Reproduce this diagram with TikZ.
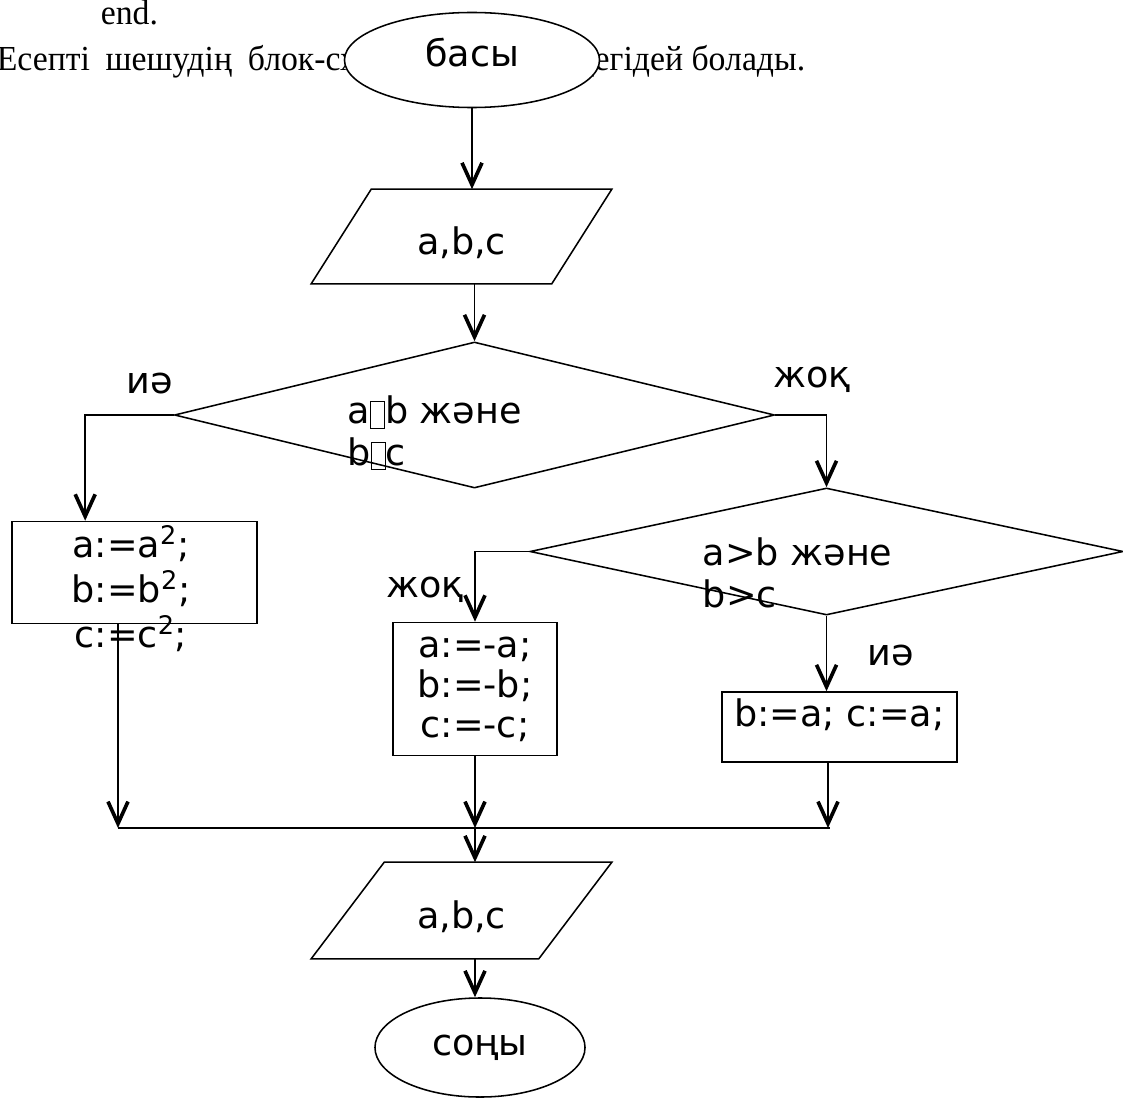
\documentclass[tikz,border=0pt]{standalone}
\usepackage{fontspec}
\setmainfont[FakeStretch=0.96]{Liberation Serif}
\newfontfamily\boxfont{DejaVu Sans}
\usetikzlibrary{arrows.meta,positioning,shapes.geometric,calc}

% glyph the source font could not show
\newcommand{\missingglyph}{\raisebox{-0.12em}{{\setlength{\fboxsep}{0pt}\setlength{\fboxrule}{0.6pt}\fbox{\rule{0pt}{0.72em}\hspace{0.36em}}}}}

\begin{document}
\begin{tikzpicture}[x=0.025cm, y=-0.025cm, line width=1.1pt,
  lbl/.style={font=\boxfont\fontsize{26}{28.5}\selectfont, inner sep=0pt},
  page/.style={font=\fontsize{25}{29}\selectfont, inner sep=0pt},
  terminal/.style={ellipse, draw, fill=white, lbl},
  io/.style={rectangle, text height=1cm, lbl},
  decision/.style={diamond, draw, inner sep=0pt},
  process/.style={rectangle, draw, align=center, lbl},
  flow/.style={-{Straight Barb[length=0.55cm, width=0.5cm, line width=2.6pt]}}]

\path[use as bounding box, fill=white] (0,0) rectangle (1123,1097);

% text of the page behind the chart
\node[page, anchor=base west] (endword) at (100,25) {end.};
\node[page, anchor=base west] (introL) at (-4,71)
  {Есепті\hspace{0.45em}шешудің\hspace{0.45em}блок-схемасы};
\node[page, anchor=base east] (introR) at (806,71) {төмендегідей болады.};

% blocks
\node[terminal, minimum width=6.375cm, minimum height=2.375cm, text depth=0.4cm] (start) at (472,60) {басы};

\node[io, minimum width=5.975cm, minimum height=2.325cm] (in) at (461.5,236.5) {a,b,c};
\draw ([xshift=0.75cm]in.north west) -- ([xshift=0.75cm]in.north east)
  -- ([xshift=-0.75cm]in.south east) -- ([xshift=-0.75cm]in.south west) -- cycle;

\node[decision, minimum width=15cm, minimum height=3.65cm] (cond1) at (474.5,415) {};
\node[lbl, anchor=base west, align=left, font=\boxfont\fontsize{26}{29.5}\selectfont] (cond1txt) at (347,465)
  {a\missingglyph b және\\b\missingglyph c};

\node[process, minimum width=6.125cm, minimum height=2.55cm] (sq) at (134.5,572.5) {};
\node[lbl, anchor=base, align=center] (sqtxt) at (131,647)
  {a:=a\textsuperscript{2};\\[3.5pt]b:=b\textsuperscript{2};\\[3.5pt]c:=c\textsuperscript{2};};

\node[decision, minimum width=14.825cm, minimum height=3.175cm] (cond2) at (826.5,551.5) {};
\node[lbl, anchor=base west, align=left, font=\boxfont\fontsize{26}{29.5}\selectfont] (cond2txt) at (702,607)
  {a>b және\\b>c};

\node[process, minimum width=4.1cm, minimum height=3.325cm] (neg) at (475,689) {a:=-a;\\b:=-b;\\c:=-c;};
\node[process, minimum width=5.875cm, minimum height=1.75cm, text depth=0.7cm] (copy) at (839.5,727) {b:=a; c:=a;};

\node[io, minimum width=5.65cm, minimum height=2.375cm] (out) at (461.5,910.5) {a,b,c};
\draw ([xshift=0.9125cm]out.north west) -- ([xshift=0.9125cm]out.north east)
  -- ([xshift=-0.9125cm]out.south east) -- ([xshift=-0.9125cm]out.south west) -- cycle;

\node[terminal, minimum width=5.25cm, minimum height=2.475cm] (stop) at (480,1047.5) {соңы};

% branch labels
\node[lbl, anchor=base] (yes1) at (150,393) {иә};
\node[lbl, anchor=base] (no1) at (812,387) {жоқ};
\node[lbl, anchor=base] (no2) at (425,597) {жоқ};
\node[lbl, anchor=base] (yes2) at (891,665) {иә};

% join points
\coordinate (jl) at (118,828);
\coordinate (jm) at (475,828);
\coordinate (jr) at (828,828);

% connectors
\draw[flow] (start.south) -- (start.south |- in.north);
\draw[flow] (cond1.north |- in.south) -- (cond1.north);
\draw[flow] (cond1.west) -| ($(sq.north west)!0.3!(sq.north east)$);
\draw[flow] (cond1.east) -| (cond2.north);
\draw[flow] (cond2.west) -| (neg.north);
\draw[flow] (cond2.south) -- (cond2.south |- copy.north);
\draw[flow] (sq.south -| jl) -- (jl);
\draw[flow] (neg.south) -- (jm);
\draw[flow] (copy.south -| jr) -- (jr);
\draw (jl) -- ([xshift=0.05cm]jr);
\draw[flow] (jm) -- (jm |- out.north);
\draw[flow] (jm |- out.south) -- (jm |- stop.north);

\end{tikzpicture}
\end{document}
